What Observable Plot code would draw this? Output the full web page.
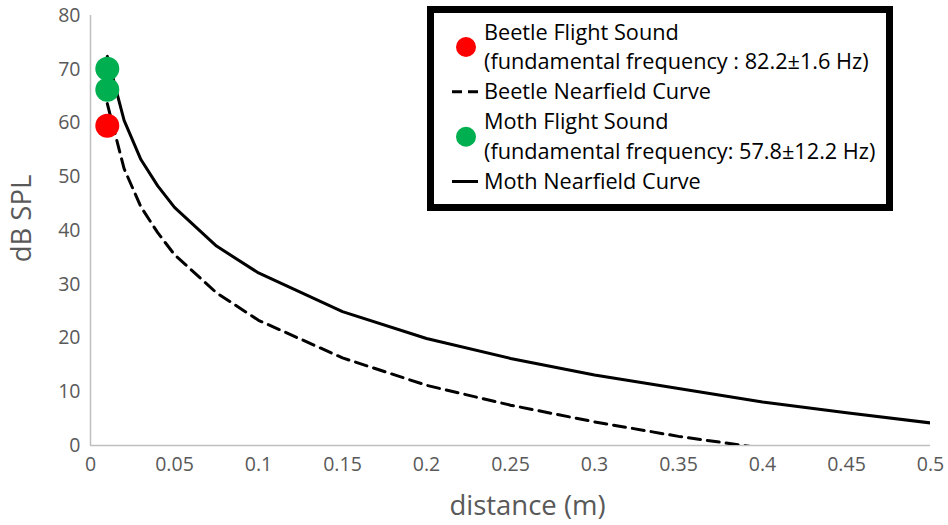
<!DOCTYPE html>
<html>
<head>
<meta charset="utf-8">
<script src="https://cdn.jsdelivr.net/npm/d3@7"></script>
<script src="https://cdn.jsdelivr.net/npm/@observablehq/plot@0.6"></script>
<style>
  html, body { margin: 0; padding: 0; background: #fff; }
  #wrap { position: relative; width: 948px; height: 525px; }
  #legend { position: absolute; left: 0; top: 0; pointer-events: none; }
</style>
</head>
<body>
<div id="wrap"></div>
<script>
// ---- data ----
const distance = [0.01, 0.02, 0.03, 0.04, 0.05, 0.075, 0.1, 0.15, 0.2, 0.25, 0.3, 0.35, 0.4, 0.45, 0.5];
const mothSPL   = [72.4, 60.5, 53.2, 48.3, 44.3, 37.1, 32.1, 24.9, 19.9, 16.2, 13.1, 10.6, 8.1, 6.1, 4.2];
const beetleSPL = [63.6, 51.5, 44.4, 39.6, 35.5, 28.4, 23.3, 16.3, 11.2, 7.5, 4.4, 1.7, -0.5, -2.6, -4.5];

const beetleSoundDist = [0.01];
const beetleSoundSPL  = [59.5];
const mothSoundDist   = [0.01, 0.01];
const mothSoundSPL    = [70.1, 66.2];

const xTicks = [0, 0.05, 0.1, 0.15, 0.2, 0.25, 0.3, 0.35, 0.4, 0.45, 0.5];
const yTicks = [0, 10, 20, 30, 40, 50, 60, 70, 80];
const xTitle = "distance (m)";
const yTitle = "dB SPL";

const legendItems = [
  {kind: "dot",  color: "#ff0000", lines: ["Beetle Flight Sound", "(fundamental frequency : 82.2±1.6 Hz)"]},
  {kind: "dash", color: "#000000", lines: ["Beetle Nearfield Curve"]},
  {kind: "dot",  color: "#00b050", lines: ["Moth Flight Sound", "(fundamental frequency: 57.8±12.2 Hz)"]},
  {kind: "line", color: "#000000", lines: ["Moth Nearfield Curve"]}
];

// ---- tables ----
const moth = distance.map((d, i) => ({d, v: mothSPL[i]}));
const beetle = distance.map((d, i) => ({d, v: beetleSPL[i]}));
const beetleSound = beetleSoundDist.map((d, i) => ({d, v: beetleSoundSPL[i]}));
const mothSound = mothSoundDist.map((d, i) => ({d, v: mothSoundSPL[i]}));

const font = "'Open Sans', 'Noto Sans', sans-serif";
const grey = "#595959";

const chart = Plot.plot({
  width: 948,
  height: 525,
  marginLeft: 90,
  marginRight: 18,
  marginTop: 15,
  marginBottom: 80,
  style: {fontFamily: font, fontSize: "19.5px", color: grey, background: "#fff"},
  x: {domain: [0, 0.5], ticks: xTicks, tickFormat: d => String(+d.toFixed(2)), tickSize: 0, tickPadding: 12, label: null},
  y: {domain: [0, 80], ticks: yTicks, tickSize: 0, tickPadding: 10, label: null},
  marks: [
    Plot.ruleY([0], {stroke: "#bfbfbf", strokeWidth: 1.5}),
    Plot.ruleX([0], {stroke: "#bfbfbf", strokeWidth: 1.5}),
    Plot.line(beetle, {x: "d", y: "v", stroke: "#000", strokeWidth: 3, strokeDasharray: "12,7", clip: true}),
    Plot.line(moth, {x: "d", y: "v", stroke: "#000", strokeWidth: 3, clip: true}),
    Plot.dot(beetleSound, {x: "d", y: "v", r: 12, fill: "#ff0000", stroke: "none"}),
    Plot.dot(mothSound, {x: "d", y: "v", r: 12, fill: "#00b050", stroke: "none"}),
    Plot.text([xTitle], {frameAnchor: "bottom", textAnchor: "middle", lineAnchor: "middle", dx: 17, dy: 61, fontSize: 27.5, fill: grey}),
    Plot.text([yTitle], {frameAnchor: "left", textAnchor: "middle", lineAnchor: "middle", dx: -68, dy: -12, rotate: -90, fontSize: 27.5, fill: grey})
  ]
});

const wrap = document.getElementById("wrap");
wrap.appendChild(chart);

// ---- legend overlay ----
const svg = d3.select(wrap).append("svg")
  .attr("id", "legend")
  .attr("width", 948).attr("height", 525);

svg.append("rect")
  .attr("x", 430.5).attr("y", 9.5).attr("width", 459).attr("height", 198)
  .attr("fill", "#fff").attr("stroke", "#000").attr("stroke-width", 7);

const lineStep = 29.9;
let row = 0;
legendItems.forEach(item => {
  const firstBaseline = 39.5 + row * lineStep;
  const nLines = item.lines.length;
  const symY = nLines === 2 ? firstBaseline + 7.5 : firstBaseline - 7.5;
  if (item.kind === "dot") {
    svg.append("circle").attr("cx", 466).attr("cy", symY).attr("r", 10).attr("fill", item.color);
  } else {
    svg.append("line").attr("x1", 452).attr("x2", 478).attr("y1", symY).attr("y2", symY)
      .attr("stroke", item.color).attr("stroke-width", 3)
      .attr("stroke-dasharray", item.kind === "dash" ? "10,6" : null);
  }
  item.lines.forEach((t, j) => {
    svg.append("text")
      .attr("x", 484).attr("y", firstBaseline + j * lineStep)
      .attr("font-family", font).attr("font-size", 21.7).attr("fill", "#000")
      .text(t);
  });
  row += nLines;
});
</script>
</body>
</html>
